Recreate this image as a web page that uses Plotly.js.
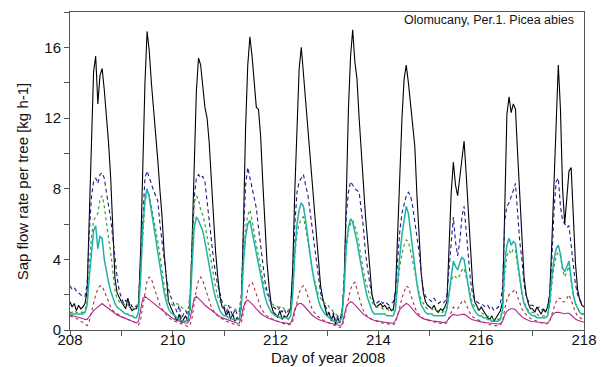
<!DOCTYPE html>
<html>
<head>
<meta charset="utf-8">
<script src="https://cdn.plot.ly/plotly-3.0.1.min.js"></script>
<style>html,body{margin:0;padding:0;background:#fff;} #chart{width:601px;height:367px;}</style>
</head>
<body>
<div id="chart"></div>
<script>
// Hourly readings, day 208.0 to 218.0 (241 values each)
const startDay = 208;
const stepsPerDay = 24;

const tree1 = [ // black solid
1.6,1.3,1.5,1.1,1.4,1.2,1.3,1.5,2.2,6.8,11.5,14.6,15.5,12.8,14.4,14.8,13.6,12.2,10.6,8.6,5.6,2.9,2.1,1.8,
1.6,1.4,1.2,1.8,1.3,1.1,1.2,1.2,1.5,4.5,9.5,14.0,16.9,15.8,14.0,12.6,11.2,9.6,7.9,6.4,4.3,2.7,1.6,1.3,
1.0,0.7,0.5,0.9,0.4,0.6,0.8,0.5,1.2,5.0,10.0,13.5,15.4,15.0,13.8,12.6,12.0,10.6,8.5,6.4,4.4,3.0,1.9,1.3,
1.2,0.8,1.1,0.6,0.9,0.5,0.7,0.6,1.3,6.0,11.5,15.0,16.6,15.5,14.2,12.6,12.5,11.0,8.4,6.0,3.8,2.4,1.4,1.0,
0.9,0.7,1.1,0.6,0.8,0.7,0.9,1.2,3.5,8.0,12.0,14.8,16.0,14.5,12.5,11.4,9.8,8.0,6.5,5.0,3.6,2.5,1.8,1.2,
0.8,1.0,0.5,0.9,0.3,0.7,0.4,0.9,2.5,7.5,12.5,15.5,17.0,15.2,14.2,12.0,10.0,8.0,6.4,5.0,3.5,2.0,1.5,1.3,
1.4,1.5,1.3,1.4,1.2,1.3,1.1,1.2,2.2,5.5,9.0,12.0,14.2,15.0,14.0,12.8,11.6,10.4,7.6,5.3,3.2,2.1,1.6,1.4,
1.3,1.2,1.4,1.1,1.0,1.2,1.1,1.3,1.6,4.5,7.8,9.5,8.2,7.6,8.6,9.8,10.7,8.8,6.8,4.6,2.6,1.6,1.3,1.1,
1.3,1.1,0.9,0.7,0.6,0.8,0.5,0.7,0.9,1.1,1.6,7.5,12.2,13.2,12.3,12.8,12.5,10.0,7.6,5.0,3.0,2.0,1.5,1.2,
1.2,1.0,1.3,1.1,0.9,1.2,1.0,1.3,2.0,5.0,8.5,11.5,15.0,12.5,8.0,6.0,7.5,9.0,9.2,6.0,3.8,2.3,1.7,1.4,
1.3];

const tree2 = [ // navy dashed
2.5,2.3,2.4,2.2,2.1,2.0,1.9,1.9,2.6,5.5,7.5,8.4,8.6,8.3,8.8,8.9,8.6,7.8,7.0,6.3,5.2,4.0,3.0,2.2,
1.8,1.5,1.7,1.4,1.6,1.3,1.4,1.3,1.6,4.0,7.0,8.6,9.0,8.6,8.2,7.9,7.6,7.3,6.0,4.8,4.0,3.0,2.3,1.9,
1.6,1.3,1.0,1.4,0.6,0.9,1.1,0.8,1.5,4.5,7.5,8.6,8.8,8.6,8.7,8.4,7.2,6.2,5.0,4.0,3.2,2.5,2.1,1.6,
1.3,1.0,1.4,1.1,0.8,1.2,0.9,1.0,2.0,5.5,8.2,9.2,8.6,8.0,7.4,6.9,5.8,4.8,3.7,2.8,2.2,1.8,1.5,1.3,
1.2,1.1,1.3,1.0,1.2,0.9,1.1,1.3,3.0,6.0,7.8,8.4,8.6,8.8,8.2,7.7,6.8,5.8,5.0,3.8,2.8,2.1,1.7,1.4,
1.2,0.9,0.6,1.0,0.5,0.8,0.6,1.0,3.0,6.5,7.8,8.4,8.2,8.0,7.9,7.8,6.8,5.8,4.3,3.3,2.6,1.9,1.6,1.5,
1.6,1.7,1.5,1.6,1.5,1.4,1.5,1.6,2.3,4.0,5.6,6.6,7.2,7.6,7.8,7.6,7.0,6.2,5.4,4.4,3.2,2.3,1.9,1.8,
1.7,1.6,1.8,1.6,1.5,1.6,1.5,1.6,2.0,3.5,5.2,6.4,5.0,4.2,5.0,6.4,7.0,5.6,4.0,2.8,2.0,1.7,1.6,1.5,
1.5,1.4,1.3,1.4,1.2,1.3,1.1,1.2,1.3,1.5,2.5,6.2,7.0,7.2,7.5,7.9,8.3,6.5,5.0,4.0,2.6,1.9,1.6,1.4,
1.4,1.3,1.2,1.3,1.2,1.1,1.2,1.3,2.0,4.0,6.8,8.4,8.6,7.0,6.2,6.0,5.8,5.9,4.8,3.5,2.6,2.0,1.7,1.5,
1.5];

const tree3 = [ // green dotted
1.0,1.0,1.1,1.0,1.0,1.0,1.0,1.1,1.6,3.6,5.2,6.2,6.4,6.6,7.4,7.6,7.0,6.0,5.2,4.4,3.2,2.2,1.8,1.6,
1.5,1.5,1.4,1.4,1.3,1.3,1.2,1.2,1.5,3.5,5.8,7.2,7.9,7.6,7.0,6.4,5.8,5.0,4.2,3.3,2.5,1.9,1.6,1.5,
1.4,1.4,1.5,1.4,1.3,1.2,1.1,1.0,2.0,5.0,7.2,7.6,7.4,6.8,6.5,6.0,5.3,4.5,3.7,3.0,2.4,1.9,1.6,1.5,
1.4,1.4,1.3,1.3,1.2,1.2,1.1,1.1,1.8,4.2,5.8,6.5,6.8,6.2,5.4,4.8,4.2,3.5,2.9,2.4,2.0,1.7,1.5,1.4,
1.4,1.3,1.3,1.3,1.2,1.2,1.1,1.2,2.2,4.3,5.5,6.0,6.3,6.4,5.8,5.0,4.2,3.5,2.9,2.4,2.0,1.8,1.6,1.5,
1.5,1.3,1.2,1.0,0.9,0.8,0.8,1.0,2.5,4.6,5.6,6.0,6.2,5.8,5.5,4.8,4.0,3.3,2.8,2.3,1.9,1.6,1.4,1.3,
1.3,1.3,1.2,1.2,1.2,1.1,1.1,1.1,1.5,2.6,3.6,4.3,4.8,5.1,5.0,4.5,3.9,3.2,2.6,2.1,1.7,1.5,1.3,1.2,
1.2,1.2,1.1,1.1,1.1,1.0,1.0,1.1,1.3,2.0,2.8,3.1,3.0,2.9,3.1,3.4,3.5,3.0,2.5,1.9,1.5,1.3,1.2,1.1,
1.0,0.9,0.8,0.8,0.7,0.7,0.6,0.6,0.6,0.7,1.2,3.2,4.2,4.5,4.3,4.6,4.5,3.6,2.8,2.1,1.6,1.3,1.1,1.0,
1.0,0.9,0.9,0.8,0.8,0.8,0.8,0.9,1.4,2.6,3.6,4.2,4.4,4.2,3.4,3.0,3.3,3.6,2.8,2.0,1.5,1.2,1.0,0.9,
0.9];

const tree4 = [ // teal solid
0.9,0.9,0.9,0.9,0.9,0.9,0.9,1.0,1.4,3.0,4.5,5.6,5.9,4.6,5.3,5.2,4.0,3.3,2.7,2.2,1.8,1.5,1.3,1.2,
1.1,1.0,0.9,0.9,0.8,0.8,0.7,0.7,1.0,3.0,5.8,7.4,8.0,7.5,6.8,6.0,5.2,4.4,3.6,2.8,2.1,1.6,1.2,1.0,
0.9,0.8,0.7,0.6,0.5,0.5,0.5,0.6,1.2,3.6,5.8,6.4,6.2,5.9,5.6,5.0,4.3,3.6,2.9,2.3,1.8,1.4,1.1,0.9,
0.8,0.8,0.7,0.7,0.6,0.6,0.6,0.6,1.4,3.8,5.3,6.0,6.2,5.6,4.8,4.2,3.6,3.0,2.4,1.9,1.5,1.2,1.0,0.9,
0.8,0.8,0.7,0.7,0.7,0.7,0.6,0.8,2.0,4.5,6.0,6.8,7.2,7.0,6.2,5.2,4.3,3.5,2.8,2.2,1.7,1.3,1.1,0.9,
0.8,0.7,0.6,0.5,0.5,0.4,0.5,0.7,2.3,4.8,5.8,6.3,6.1,5.6,5.0,4.3,3.6,2.9,2.3,1.8,1.4,1.1,0.9,0.9,
0.9,0.9,0.9,0.9,0.8,0.8,0.8,0.8,1.2,2.8,4.2,5.4,6.3,7.0,6.6,5.6,4.5,3.5,2.6,1.9,1.4,1.2,1.0,0.9,
0.9,0.9,0.8,0.8,0.8,0.8,0.8,0.8,1.2,2.2,3.2,3.9,3.6,3.4,3.8,4.1,4.0,3.3,2.4,1.7,1.3,1.1,0.9,0.8,
0.8,0.7,0.7,0.6,0.6,0.5,0.5,0.5,0.5,0.6,1.2,3.8,4.8,5.2,4.8,5.0,4.9,3.9,2.9,2.1,1.5,1.2,1.0,0.9,
0.8,0.8,0.7,0.7,0.7,0.7,0.7,0.8,1.6,3.0,4.0,4.6,4.8,4.3,3.5,3.3,3.6,3.9,2.9,2.0,1.5,1.2,1.0,0.9,
0.9];

const tree5 = [ // brown dotted
0.8,0.75,0.7,0.65,0.6,0.5,0.4,0.3,0.25,0.5,1.0,1.6,2.0,2.3,2.5,2.5,2.2,1.8,1.5,1.3,1.1,1.0,0.9,0.8,
0.75,0.7,0.65,0.6,0.55,0.5,0.45,0.35,0.3,0.6,1.3,2.2,2.8,3.0,2.9,2.5,2.1,1.7,1.4,1.2,1.0,0.85,0.7,0.6,
0.55,0.5,0.45,0.4,0.35,0.3,0.25,0.2,0.25,0.7,1.5,2.3,2.8,3.0,2.8,2.4,2.0,1.6,1.3,1.1,0.9,0.8,0.7,0.6,
0.55,0.5,0.45,0.4,0.35,0.3,0.3,0.25,0.4,1.0,1.7,2.3,2.6,2.7,2.4,2.0,1.6,1.3,1.1,0.9,0.8,0.7,0.65,0.6,
0.55,0.5,0.45,0.4,0.35,0.3,0.3,0.3,0.5,1.0,1.6,2.1,2.4,2.5,2.3,1.9,1.5,1.2,1.0,0.85,0.75,0.65,0.55,0.5,
0.45,0.4,0.35,0.3,0.25,0.2,0.15,0.2,0.6,1.2,1.8,2.3,2.6,2.7,2.3,1.8,1.4,1.1,0.9,0.75,0.65,0.6,0.55,0.5,
0.45,0.42,0.4,0.38,0.35,0.32,0.3,0.3,0.4,0.8,1.3,1.8,2.2,2.5,2.4,2.0,1.6,1.3,1.0,0.85,0.75,0.65,0.6,0.55,
0.5,0.48,0.45,0.42,0.4,0.38,0.35,0.35,0.4,0.7,1.0,1.3,1.2,1.2,1.4,1.6,1.7,1.4,1.1,0.9,0.75,0.65,0.6,0.55,
0.5,0.45,0.4,0.35,0.3,0.3,0.25,0.25,0.25,0.3,0.5,1.2,1.7,2.0,2.1,2.2,2.3,1.9,1.5,1.2,1.0,0.85,0.75,0.65,
0.6,0.55,0.5,0.45,0.4,0.4,0.35,0.35,0.5,0.9,1.3,1.6,1.8,1.8,1.6,1.6,1.8,2.0,1.7,1.3,1.0,0.8,0.7,0.6,
0.55];

const tree6 = [ // magenta solid
0.85,0.82,0.8,0.78,0.75,0.7,0.65,0.6,0.6,0.75,0.95,1.1,1.2,1.3,1.45,1.5,1.4,1.3,1.2,1.1,1.0,0.9,0.85,0.8,
0.75,0.7,0.65,0.6,0.55,0.5,0.45,0.4,0.5,1.2,1.8,1.9,1.8,1.7,1.6,1.55,1.45,1.35,1.25,1.1,1.0,0.9,0.8,0.7,
0.65,0.6,0.55,0.5,0.45,0.42,0.4,0.4,0.6,1.3,1.8,1.9,1.8,1.7,1.55,1.4,1.3,1.2,1.1,1.0,0.9,0.8,0.75,0.7,
0.65,0.6,0.55,0.5,0.45,0.4,0.38,0.38,0.7,1.3,1.6,1.7,1.6,1.5,1.35,1.2,1.05,0.95,0.85,0.75,0.7,0.65,0.6,0.55,
0.5,0.48,0.45,0.42,0.4,0.38,0.36,0.38,0.7,1.2,1.4,1.5,1.5,1.4,1.25,1.1,0.95,0.85,0.75,0.65,0.6,0.55,0.5,0.45,
0.42,0.4,0.36,0.33,0.3,0.28,0.27,0.3,0.8,1.3,1.5,1.6,1.55,1.45,1.3,1.15,1.0,0.9,0.8,0.72,0.66,0.6,0.55,0.52,
0.5,0.48,0.46,0.44,0.42,0.4,0.38,0.38,0.55,0.9,1.15,1.3,1.4,1.5,1.45,1.3,1.15,1.0,0.88,0.78,0.7,0.64,0.6,0.56,
0.54,0.52,0.5,0.48,0.46,0.44,0.42,0.42,0.5,0.65,0.8,0.88,0.85,0.82,0.86,0.9,0.9,0.82,0.72,0.64,0.58,0.54,0.5,0.48,
0.46,0.44,0.42,0.4,0.38,0.36,0.35,0.34,0.34,0.36,0.5,0.85,1.05,1.15,1.2,1.2,1.15,1.0,0.85,0.75,0.66,0.6,0.55,0.5,
0.48,0.46,0.44,0.42,0.4,0.38,0.37,0.38,0.55,0.8,0.95,1.0,1.0,0.98,0.95,0.92,0.95,0.95,0.85,0.72,0.62,0.55,0.5,0.46,
0.44];

const xTickVals = [208, 210, 212, 214, 216, 218];
const yTickVals = [0, 4, 8, 12, 16];
const chartTitle = "Olomucany, Per.1. Picea abies";
const xTitle = "Day of year 2008";
const yTitle = "Sap flow rate per tree [kg h-1]";

const time = tree1.map((_, i) => startDay + i / stepsPerDay);

const series = [
  {y: tree1, color: '#000000', dash: 'solid', width: 1.1},
  {y: tree2, color: '#1c1c86', dash: '4px,3px', width: 1.1},
  {y: tree3, color: '#3c9c2c', dash: 'dot', width: 1.2},
  {y: tree4, color: '#1fb3a6', dash: 'solid', width: 1.5},
  {y: tree5, color: '#a3343c', dash: 'dot', width: 1.1},
  {y: tree6, color: '#b0288e', dash: 'solid', width: 1.1}
];

const traces = series.map(s => ({
  x: time, y: s.y, type: 'scatter', mode: 'lines',
  line: {color: s.color, dash: s.dash, width: s.width},
  hoverinfo: 'skip', showlegend: false
}));

const fontFam = '"Liberation Sans", Arial, Helvetica, sans-serif';

const layout = {
  width: 601, height: 367,
  margin: {l: 70, r: 17, t: 12, b: 37},
  paper_bgcolor: '#fff', plot_bgcolor: '#fff',
  font: {family: fontFam, size: 15, color: '#111'},
  showlegend: false,
  xaxis: {
    range: [208, 218], tickvals: xTickVals, ticktext: xTickVals.map(String),
    ticks: 'outside', ticklen: 5, tickcolor: '#555', tickwidth: 1,
    minor: {dtick: 1, tick0: 208, ticks: 'outside', ticklen: 5, tickcolor: '#555'},
    showline: true, linecolor: '#555', linewidth: 1, mirror: true,
    showgrid: false, zeroline: false,
    tickfont: {size: 15},
    ticklabelstandoff: -9
  },
  yaxis: {
    range: [0, 18], tickvals: yTickVals, ticktext: yTickVals.map(String),
    ticks: 'outside', ticklen: 5, tickcolor: '#555', tickwidth: 1,
    minor: {dtick: 2, tick0: 0, ticks: 'outside', ticklen: 5, tickcolor: '#555'},
    showline: true, linecolor: '#555', linewidth: 1, mirror: true,
    showgrid: false, zeroline: false,
    tickfont: {size: 15}
  },
  annotations: [
    {text: chartTitle, xref: 'paper', yref: 'paper',
     x: 0.985, y: 0.975, xanchor: 'right', yanchor: 'middle',
     showarrow: false, font: {size: 12.5, color: '#111'}},
    {text: xTitle, xref: 'paper', yref: 'paper',
     x: 0.502, y: -0.085, xanchor: 'center', yanchor: 'middle',
     showarrow: false, font: {size: 15, color: '#111'}},
    {text: yTitle, xref: 'paper', yref: 'paper', textangle: -90,
     x: -0.093, y: 0.468, xanchor: 'center', yanchor: 'middle',
     showarrow: false, font: {size: 15, color: '#111'}}
  ]
};

Plotly.newPlot('chart', traces, layout, {staticPlot: true, displayModeBar: false});
</script>
</body>
</html>
